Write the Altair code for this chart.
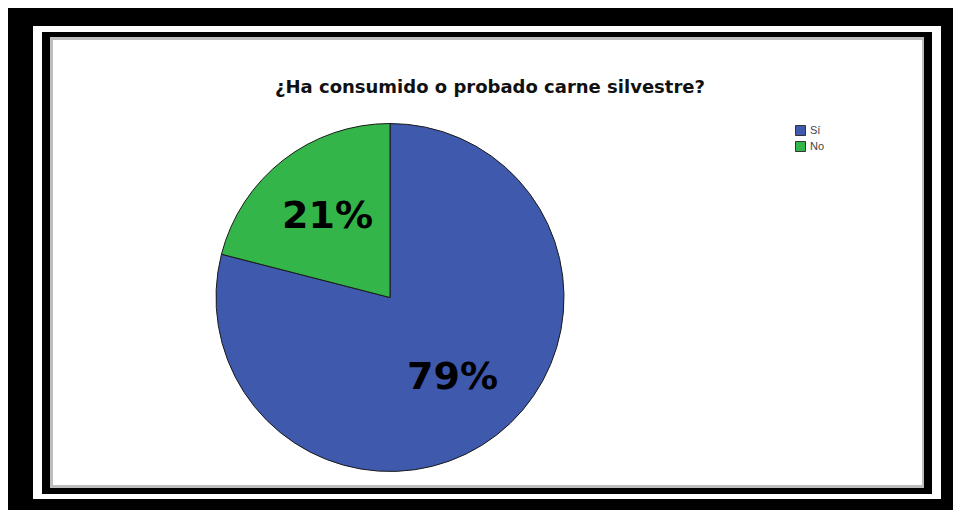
import altair as alt
import pandas as pd

title_text = "¿Ha consumido o probado carne silvestre?"
categories = ["Sí", "No"]
percents = [79, 21]
labels = ["79%", "21%"]
colors = ["#3F59AC", "#33B549"]
order = [0, 1]

df = pd.DataFrame({"cat": categories, "pct": percents, "label": labels, "ord": order})
one = pd.DataFrame({"k": [0]})

W, H = 908, 473
CX, CY = 357, 271.5

frame_black = alt.Chart(one).mark_rect(fill="black").encode(
    x=alt.value(9), x2=alt.value(899), y=alt.value(6), y2=alt.value(468))
frame_shadow = alt.Chart(one).mark_rect(fill="#bdbdbd").encode(
    x=alt.value(17), x2=alt.value(891), y=alt.value(11), y2=alt.value(462))
frame_white = alt.Chart(one).mark_rect(fill="white").encode(
    x=alt.value(20), x2=alt.value(889), y=alt.value(14), y2=alt.value(459))

base = alt.Chart(df).encode(
    theta=alt.Theta("pct:Q", stack=True),
    order=alt.Order("ord:Q"),
    detail="cat:N",
)

pie = base.mark_arc(outerRadius=174, stroke="#1a1a1a", strokeWidth=1).encode(
    x=alt.value(CX), y=alt.value(CY),
    color=alt.Color(
        "cat:N",
        sort=categories,
        scale=alt.Scale(domain=categories, range=colors),
        legend=alt.Legend(
            title=None, orient="none", legendX=762, legendY=99,
            symbolType="square", symbolSize=100, symbolStrokeColor="#333333",
            symbolStrokeWidth=1, labelFontSize=11, labelColor="#444444",
            labelFont="Liberation Sans", rowPadding=1, symbolOpacity=1,
        ),
    ),
)

txt = base.mark_text(radius=102, font="DejaVu Sans", fontSize=38, fontWeight="bold",
                     color="black").encode(
    x=alt.value(CX), y=alt.value(CY), text="label:N")

title = alt.Chart(one).mark_text(font="DejaVu Sans", fontSize=18, fontWeight="bold",
                                 color="#111111").encode(
    x=alt.value(457), y=alt.value(62), text=alt.value(title_text))

chart = alt.layer(frame_black, frame_shadow, frame_white, pie, txt, title).properties(
    width=W, height=H,
    padding={"left": 25, "top": 18, "right": 12, "bottom": 11},
    autosize=alt.AutoSizeParams(type="none"),
    background="black",
).configure_view(fill="white", strokeWidth=0)

chart.save("out.html", embed_options={"renderer": "svg", "actions": False})
